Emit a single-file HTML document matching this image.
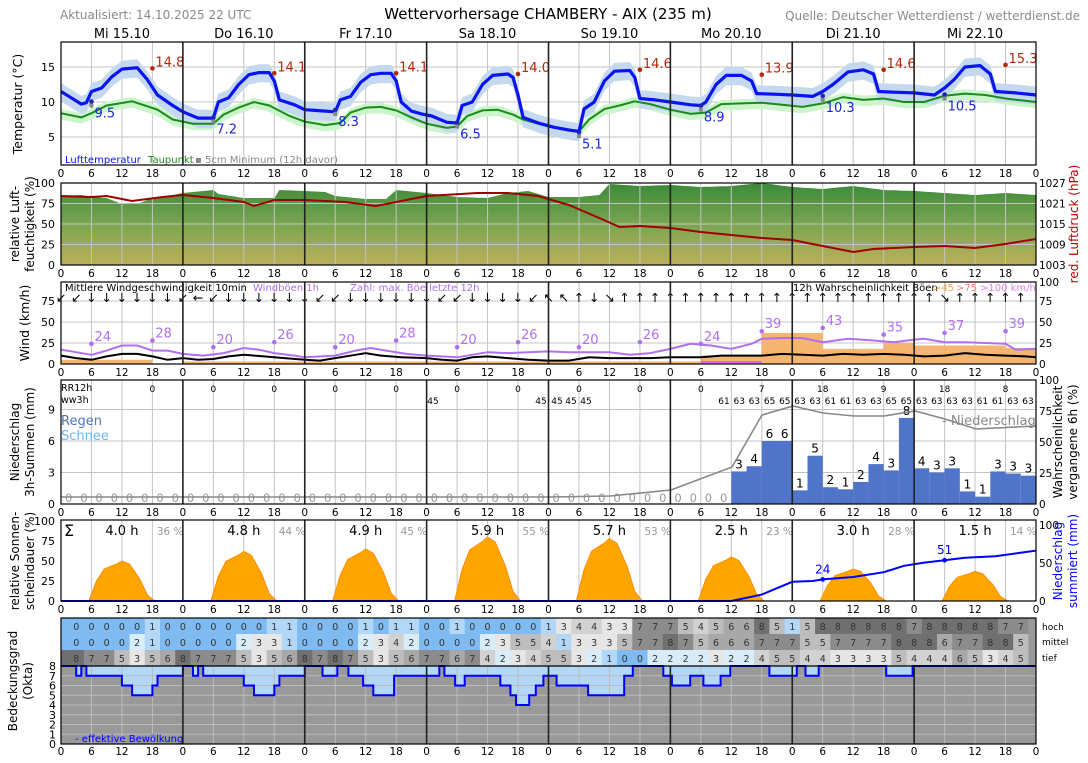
<!DOCTYPE html>
<html><head><meta charset="utf-8"><style>
html,body{margin:0;padding:0;background:#fff;}
svg{display:block;font-family:"DejaVu Sans","Liberation Sans",sans-serif;}
</style></head><body>
<svg id="s" width="1088" height="763" viewBox="0 0 1088 763" xmlns="http://www.w3.org/2000/svg">
<text x="60" y="19" font-size="12" fill="#8a8a8a">Aktualisiert: 14.10.2025 22 UTC</text>
<text x="548" y="19" font-size="15" text-anchor="middle" fill="#000">Wettervorhersage CHAMBERY - AIX (235 m)</text>
<text x="1080" y="20" font-size="12" text-anchor="end" fill="#8a8a8a">Quelle: Deutscher Wetterdienst / wetterdienst.de</text>
</svg>
<script>
const S=document.getElementById('s');const NS='http://www.w3.org/2000/svg';
function el(t,a,txt){const e=document.createElementNS(NS,t);for(const k in a)e.setAttribute(k,a[k]);if(txt!==undefined)e.textContent=txt;S.appendChild(e);return e;}
const L=61,R=1036,X=h=>L+h*(R-L)/192;
function tx(x,y,s,o){o=o||{};return el('text',Object.assign({x:x,y:y,'font-size':o.fs||11,fill:o.fill||'#000','text-anchor':o.a||'middle'},o.extra||{}),s);}
function rtx(x,y,s,o){o=o||{};return el('text',{x:0,y:0,'font-size':o.fs||12,fill:o.fill||'#000','text-anchor':'middle',transform:`translate(${x},${y}) rotate(-90)`},s);}
function lerp(pts,h){for(let i=0;i<pts.length-1;i++){if(h>=pts[i][0]&&h<=pts[i+1][0]){const t=(h-pts[i][0])/(pts[i+1][0]-pts[i][0]||1);return pts[i][1]+t*(pts[i+1][1]-pts[i][1]);}}return pts[pts.length-1][1];}
function path(pts,fy){return pts.map((p,i)=>(i?'L':'M')+X(p[0]).toFixed(1)+','+fy(p[1]).toFixed(1)).join('');}
const days=['Mi 15.10','Do 16.10','Fr 17.10','Sa 18.10','So 19.10','Mo 20.10','Di 21.10','Mi 22.10'];
days.forEach((d,i)=>tx(X(i*24+12),38,d,{fs:13}));
const panels={T:[42,165],H:[183,265],W:[282,364],P:[380,504],Sun:[520,601],C:[618,744]};
function grid(p,hy){const [t,b]=panels[p];
 for(let h=6;h<192;h+=6){if(h%24)el('line',{x1:X(h),x2:X(h),y1:t,y2:b,stroke:'#c4c4c4','stroke-width':1});}
 (hy||[]).forEach(y=>el('line',{x1:L,x2:R,y1:y,y2:y,stroke:'#c4c4c4','stroke-width':1}));}
function frame(p){const [t,b]=panels[p];
 for(let d=1;d<8;d++)el('line',{x1:X(d*24),x2:X(d*24),y1:t,y2:b,stroke:'#222','stroke-width':1.6});
 el('rect',{x:L,y:t,width:R-L,height:b-t,fill:'none',stroke:'#000','stroke-width':1.2});
 for(let h=0;h<=192;h+=6)tx(X(h),b+12,String(h%24),{fs:10.5});}
/* ---------- Temperature ---------- */
const TY=v=>172-7*v;
const Tp=[[0,11.5],[2,10.6],[4,9.7],[5,9.9],[6,11.5],[8,12],[10,13.6],[12,14.7],[15,14.9],[17,13.2],[19,11],[22,9.5],[24,8.6],[27,7.7],[30,7.7],[31,10],[33,10.6],[35,12.5],[37,13.9],[39,14.2],[41,14.2],[42,13],[43,10.3],[46,9.6],[48,8.9],[50,8.8],[54,8.6],[55,10.3],[57,10.8],[59,12.8],[61,13.9],[63,14.1],[65,14.1],[66,13],[67,10],[69,8.7],[71,8.3],[73,8],[76,7.1],[78,7],[79,9.5],[81,10],[83,12.5],[85,13.8],[88,14],[89,13.5],[90,11],[91,7.8],[94,7],[97,6.4],[100,6],[102,5.8],[103,9],[105,10],[107,13],[109,14.4],[112,14.5],[113,13.5],[114,10.5],[117,10.3],[120,10],[124,9.6],[126,9.5],[127,10],[129,12.5],[131,13.8],[134,13.8],[136,13],[137,11.2],[141,11.1],[144,11],[148,10.8],[150,11.5],[152,12.5],[155,14.3],[158,14.6],[160,14],[161,11.5],[164,11.4],[168,11.3],[172,11],[174,12],[176,13.3],[178,15],[181,15.2],[183,14],[184,11.5],[188,11.3],[192,11]];
const Dp=[[0,8.4],[4,7.8],[6,8.4],[9,9.5],[14,10.1],[19,8.9],[22,7.5],[26,6.9],[30,6.9],[32,8.2],[35,9.2],[38,10],[41,9.5],[45,8],[48,7.2],[52,6.7],[55,7],[57,8.5],[60,9.2],[63,9.3],[66,8.8],[69,7.8],[72,6.9],[76,6.3],[78,6.5],[80,8],[83,8.8],[86,8.9],[89,8.2],[91,7.5],[96,6.5],[100,6],[102,5.8],[104,7.5],[107,9],[110,9.5],[113,10.1],[116,9.7],[120,8.9],[124,8.3],[127,8.5],[130,9.7],[134,9.8],[138,9.9],[142,9.6],[146,9.3],[150,9.8],[154,10.7],[158,10.3],[162,10.5],[166,10],[170,10],[174,10.9],[178,11.2],[182,11],[186,10.5],[192,10]];
grid('T',[TY(15),TY(10),TY(5)]);
function band(pts,up,dn,fill){const a=[],b=[];for(let h=0;h<=192;h+=1){const v=lerp(pts,h);a.push([h,v+up]);b.push([h,v-dn]);}
 el('path',{d:path(a,TY)+path(b.reverse(),TY).replace('M','L')+'Z',fill:fill});}
band(Dp,0.6,0.9,'#ccf5cc');band(Tp,1.2,1.4,'#c4d9ef');
el('path',{d:path(Dp,TY),fill:'none',stroke:'#1a8c1a','stroke-width':2});
el('path',{d:path(Tp,TY),fill:'none',stroke:'#0a14f0','stroke-width':3.2,'stroke-linejoin':'round'});
[14.8,14.1,14.1,14.0,14.6,13.9,14.6,15.3].forEach((v,i)=>{const x=X(i*24+18);el('circle',{cx:x,cy:TY(v),r:2.3,fill:'#b02a0a'});tx(x+3,TY(v)-2,v.toFixed(1),{fs:13,fill:'#b02a0a',a:'start'});});
[9.5,7.2,8.3,6.5,5.1,8.9,10.3,10.5].forEach((v,i)=>{const x=X(i*24+6);el('circle',{cx:x,cy:TY(v)-4,r:2.3,fill:'#1a28b0'});el('rect',{x:x-2,y:TY(v)-2,width:4,height:4,fill:'#888'});tx(x+3,TY(v)+12,v.toFixed(1),{fs:13,fill:'#1a28d0',a:'start'});});
tx(65,163,'Lufttemperatur',{fs:10,fill:'#0a14f0',a:'start'});
tx(148,163,'Taupunkt',{fs:10,fill:'#1a8c1a',a:'start'});
tx(195,163,'▪ 5cm Minimum (12h davor)',{fs:10,fill:'#888',a:'start'});
frame('T');
[[15,TY(15)],[10,TY(10)],[5,TY(5)]].forEach(p=>tx(55,p[1]+4,String(p[0]),{fs:11,a:'end'}));
rtx(22,104,'Temperatur (°C)',{fs:12.5});
/* ---------- Humidity ---------- */
const HY=v=>265-v*0.82;
const defs=el('defs',{});defs.innerHTML='<linearGradient id="hg" x1="0" y1="0" x2="0" y2="1"><stop offset="0" stop-color="#3a8a3a"/><stop offset="0.5" stop-color="#7aa550"/><stop offset="1" stop-color="#bcb05a"/></linearGradient>';
const Htop=[[0,196],[4,195],[6,197],[9,198],[12,204],[15,204],[18,198],[21,196],[24,193],[30,190],[31,194],[36,198],[42,198],[43,190],[48,191],[52,192],[54,196],[60,199],[64,199],[66,190],[72,193],[78,197],[84,198],[88,193],[92,191],[96,197],[102,197],[106,195],[108,184],[114,186],[120,185],[126,187],[132,186],[138,183],[144,187],[150,189],[156,186],[162,190],[168,191],[174,193],[180,195],[186,193],[192,195]];
const hp=[];for(let h=0;h<=192;h+=1)hp.push(X(h).toFixed(1)+','+lerp(Htop,h).toFixed(1));
el('polygon',{points:hp.join(' ')+` ${R},265 ${L},265`,fill:'url(#hg)'});
grid('H',[HY(25),HY(50),HY(75)]);
const Pr=[[0,196],[6,197],[9,196],[14,201],[20,197],[24,195],[30,198],[36,202],[38,206],[42,200],[48,200],[56,202],[62,206],[68,200],[72,196],[82,193],[88,193],[94,196],[100,205],[106,218],[110,227],[114,226],[120,228],[126,232],[132,235],[138,238],[144,240],[150,246],[156,252],[160,249],[164,248],[168,247],[174,246],[180,248],[186,244],[192,239]];
el('path',{d:path(Pr,v=>v),fill:'none',stroke:'#a00000','stroke-width':2});
frame('H');
[[100,183],[75,HY(75)],[50,HY(50)],[25,HY(25)],[0,265]].forEach(p=>tx(55,p[1]+4,String(p[0]),{fs:11,a:'end'}));
[[1027,183],[1021,203.5],[1015,224],[1009,244.5],[1003,265]].forEach(p=>tx(1039,p[1]+4,String(p[0]),{fs:10.5,a:'start'}));
rtx(19,224,'relative Luft-');rtx(34,224,'feuchtigkeit (%)');
rtx(1078,224,'red. Luftdruck (hPa)',{fill:'#c00000'});
/* ---------- Wind ---------- */
const WY=v=>364-v*0.84;
grid('W',[WY(25),WY(50),WY(75)]);
[[0,18,5],[24,72,3],[72,126,3],[126,138,10],[138,150,37],[150,162,18],[162,168,25],[168,186,22],[186,192,19]].forEach(b=>el('rect',{x:X(b[0]),y:WY(b[2]),width:X(b[1])-X(b[0]),height:364-WY(b[2]),fill:'#f5b570'}));
el('line',{x1:X(126),x2:X(138),y1:362,y2:362,stroke:'#e060f0','stroke-width':2});
const Wm=[[0,10],[3,7],[6,5],[9,9],[12,12],[15,12],[18,9],[21,5],[24,7],[27,5],[30,6],[33,9],[36,11],[40,9],[44,7],[48,5],[51,4],[54,7],[58,11],[60,13],[63,10],[67,8],[72,7],[75,5],[78,4],[81,8],[84,9],[88,7],[92,5],[96,4],[100,4],[104,8],[108,7],[112,7],[116,7],[120,8],[126,8],[130,10],[134,10],[138,10],[142,12],[146,11],[150,10],[154,12],[158,11],[162,12],[166,11],[170,9],[174,10],[178,13],[182,11],[186,10],[190,9],[192,8]];
const Wg=[[0,17],[3,14],[6,11],[9,16],[12,22],[15,22],[18,16],[21,16],[24,12],[28,10],[32,13],[36,19],[39,17],[42,13],[46,10],[48,8],[54,10],[58,16],[61,19],[64,16],[68,12],[72,10],[78,8],[84,14],[88,13],[92,14],[96,15],[100,14],[104,14],[108,14],[112,11],[116,13],[120,18],[124,24],[128,22],[132,18],[136,24],[138,30],[142,31],[146,31],[150,26],[155,30],[160,28],[164,26],[168,29],[170,30],[174,26],[178,26],[182,25],[186,24],[188,17],[192,18]];
el('path',{d:path(Wg,WY),fill:'none',stroke:'#b070f0','stroke-width':2});
el('path',{d:path(Wm,WY),fill:'none',stroke:'#000','stroke-width':2});
[24,28,20,26,20,28,20,26,20,26,24,39,43,35,37,39].forEach((v,i)=>{const x=X(6+12*i);el('circle',{cx:x,cy:WY(v),r:2.3,fill:'#b070f0'});tx(x+3,WY(v)-3,String(v),{fs:13,fill:'#b070f0',a:'start'});});
const arr='↙↙↓↓↓↓↓↓↙←↙↓↓↓↓↓↓↙↙↓↓↓↓↓↓↙↙↓↓↓↓↙↖↖↑↓↘↑↑↑↑↑↑↑↑↑↑↑↑↑↑↑↑↑↑↑↑↑↘↑↑↑↑↑↑↑↑↑';
for(let i=0;i<64;i++)tx(X(i*3),302,arr[i]||'↑',{fs:12.5});
tx(65,291,'Mittlere Windgeschwindigkeit 10min',{fs:10,a:'start'});
tx(253,291,'Windböen 1h',{fs:10,fill:'#b070f0',a:'start'});
tx(350,291,'Zahl: max. Böe letzte 12h',{fs:10,fill:'#b070f0',a:'start'});
tx(793,291,'12h Wahrscheinlichkeit Böen',{fs:10,a:'start'});
tx(933,291,'>45',{fs:10,fill:'#e8a860',a:'start'});
tx(956,291,'>75',{fs:10,fill:'#f08070',a:'start'});
tx(980,291,'>100 km/h',{fs:10,fill:'#e080e8',a:'start'});
frame('W');
[[75,WY(75)],[50,WY(50)],[25,WY(25)],[0,364]].forEach(p=>tx(55,p[1]+4,String(p[0]),{fs:11,a:'end'}));
[[100,282],[75,WY(75)],[50,WY(50)],[25,WY(25)],[0,364]].forEach(p=>tx(1039,p[1]+4,String(p[0]),{fs:10.5,a:'start'}));
rtx(29,323,'Wind (km/h)',{fs:12.5});
/* ---------- Precip ---------- */
const PY=v=>504-v*10.5;
grid('P',[PY(3),PY(6),PY(9)]);
const bars=[[132,3.1],[135,3.6],[138,6],[141,6],[144,1.3],[147,4.6],[150,1.6],[153,1.4],[156,2.1],[159,3.8],[162,3.2],[165,8.2],[168,3.4],[171,3.0],[174,3.4],[177,1.2],[180,0.7],[183,3.1],[186,2.9],[189,2.7]];
const bl=[3,4,6,6,1,5,2,1,2,4,3,8,4,3,3,1,1,3,3,3];
bars.forEach((b,i)=>{el('rect',{x:X(b[0]),y:PY(b[1]),width:X(b[0]+3)-X(b[0]),height:504-PY(b[1]),fill:'#4f74c8'});tx(X(b[0]+1.5),PY(b[1])-3,String(bl[i]),{fs:12});});
for(let k=0;k<44;k++)tx(X(3*k+1.5),502,'0',{fs:11.5,fill:'#999'});
el('polyline',{points:'61,497 427,497 550,497 610,496 671,490 732,467 762,415 793,406 823,413 854,416 884,416 915,411 945,419 976,429 1036,426',fill:'none',stroke:'#888','stroke-width':1.6});
tx(942,425,'- Niederschlag',{fs:13,fill:'#888',a:'start'});
tx(61,391,'RR12h',{fs:9.5,a:'start'});tx(61,403,'ww3h',{fs:9.5,a:'start'});
[0,0,0,0,0,0,0,0,0,0,7,18,9,18,8].forEach((v,i)=>tx(X(18+12*i),392,String(v),{fs:9}));
[[433,45],[541,45],[557,45],[571,45],[586,45]].forEach(p=>tx(p[0],404,String(p[1]),{fs:9}));
[61,63,63,65,65,63,63,61,61,63,63,65,65,63,63,63,63,61,61,63,63].forEach((v,i)=>tx(724+i*15.2,404,String(v),{fs:9}));
tx(61,425,'Regen',{fs:13,fill:'#4f74c8',a:'start'});tx(61,440,'Schnee',{fs:13,fill:'#6ab4f8',a:'start'});
frame('P');
[[9,PY(9)],[6,PY(6)],[3,PY(3)],[0,504]].forEach(p=>tx(55,p[1]+4,String(p[0]),{fs:11,a:'end'}));
[[100,380],[75,411],[50,442],[25,473],[0,504]].forEach(p=>tx(1039,p[1]+4,String(p[0]),{fs:10.5,a:'start'}));
rtx(19,442,'Niederschlag');rtx(34,442,'3h-Summen (mm)');
rtx(1062,442,'Wahrscheinlichkeit');rtx(1077,442,'vergangene 6h (%)');
/* ---------- Sunshine ---------- */
const SY=v=>601-v*0.8;
grid('Sun',[]);
[50,62,65,80,78,55,40,37].forEach((p,d)=>{const o=d*24;const pts=[[o+5.5,0],[o+7,p*0.5],[o+8.5,p*0.8],[o+11,p*0.93],[o+12,p],[o+13.5,p*0.92],[o+15.5,p*0.55],[o+17,p*0.15],[o+18.5,0]];
 el('path',{d:path(pts,SY)+'Z',fill:'#ffa500',stroke:'#ff8c00','stroke-width':1});});
const Cu=[[0,0],[132,0],[138,8],[144,24],[148,25],[150,27],[156,30],[162,36],[166,44],[170,48],[174,51],[178,54],[184,56],[192,63]];
el('path',{d:path(Cu,SY),fill:'none',stroke:'#0000ff','stroke-width':2});
el('circle',{cx:X(150),cy:SY(27),r:2.3,fill:'#0000ff'});tx(X(150),SY(27)-6,'24',{fs:12,fill:'#0000ff'});
el('circle',{cx:X(174),cy:SY(51),r:2.3,fill:'#0000ff'});tx(X(174),SY(51)-6,'51',{fs:12,fill:'#0000ff'});
[['4.0 h','36 %'],['4.8 h','44 %'],['4.9 h','45 %'],['5.9 h','55 %'],['5.7 h','53 %'],['2.5 h','23 %'],['3.0 h','28 %'],['1.5 h','14 %']].forEach((s,d)=>{tx(X(d*24+12),535,s[0],{fs:13});tx(X(d*24+21.5),535,s[1],{fs:10.5,fill:'#999'});});
tx(64,536,'Σ',{fs:16,a:'start'});
frame('Sun');
[[100,521],[75,541],[50,561],[25,581],[0,601]].forEach(p=>tx(55,p[1]+4,String(p[0]),{fs:11,a:'end'}));
[[100,525],[50,563],[0,601]].forEach(p=>tx(1039,p[1]+4,String(p[0]),{fs:10.5,a:'start'}));
rtx(19,561,'relative Sonnen-');rtx(34,561,'scheindauer (%)');
rtx(1062,561,'Niederschlag',{fill:'#0000ff'});rtx(1077,561,'summiert (mm)',{fill:'#0000ff'});
/* ---------- Clouds ---------- */
const col=['#7fbaf0','#b3d7f7','#d9ecf9','#e6e6e6','#d2d2d2','#bdbdbd','#a8a8a8','#8c8c8c','#707070'];
const hoch=[0,0,0,0,0,1,0,0,0,0,0,0,0,1,1,0,0,0,0,1,0,1,1,0,0,1,0,0, 0,0,0,1,3,4,4,3,3,7,7,7,5,4,5,6,6,8,5,1,5,8,8,8,8,8,8,7,8,8,8,8,8,7,7];
const mit=[0,0,0,0,2,1,0,0,0,0,0,2,3,3,1,0,0,0,0,2,3,4,2,0,0,0,0,2, 3,5,5,4,1,3,3,3,5,7,7,8,7,5,6,6,6,7,7,7,5,5,7,7,7,7,8,8,8,6,7,7,8,8,5];
const tief=[8,7,7,5,3,5,6,8,7,7,7,5,3,5,6,8,7,8,7,5,3,5,6,7,7,6,7,4, 2,3,4,5,5,3,2,1,0,0,2,2,2,2,3,2,2,4,5,5,4,4,3,3,3,3,5,4,4,4,6,5,3,4,5];
[[hoch,618],[mit,634],[tief,650]].forEach(([arrv,y])=>{
 el('rect',{x:L,y:y,width:R-L,height:16,fill:col[arrv[0]]});
 arrv.forEach((v,i)=>{const h=3*(i+1);el('rect',{x:X(h-1.5),y:y,width:X(h+1.5)-X(h-1.5)+0.5,height:16,fill:col[v]});tx(X(h),y+12,String(v),{fs:9.5,fill:'#333'});});
 el('rect',{x:X(190.5),y:y,width:R-X(190.5),height:16,fill:'#999'});});
tx(1042,630,'hoch',{fs:9,a:'start'});tx(1042,645,'mittel',{fs:9,a:'start'});tx(1042,661,'tief',{fs:9,a:'start'});
const CY=v=>744-v*9.75;
el('rect',{x:L,y:666,width:R-L,height:78,fill:'#999'});
const st=[[2,8],[3,7],[4,8],[5,7],[12,6],[14,5],[18,6],[19,7],[24,8],[26,7],[27,8],[28,7],[36,6],[38,5],[42,6],[43,7],[48,8],[51.5,7],[54.4,8],[56.6,7],[59.5,6],[61.5,5],[65.6,7],[74.5,8],[75.5,7],[77.6,6],[79.5,7],[86.5,6],[88.5,5],[89.6,4],[92.2,5],[93.5,6],[95,7],[97.6,6],[103.8,5],[110.9,7],[112.6,8],[118.6,7],[120.3,6],[123.9,7],[126.5,6],[129.9,7],[131.8,8],[139.5,7],[144.9,8],[146.6,7],[149.2,8],[162.5,7],[167.7,8],[192,8]];
let d='M'+X(0)+','+CY(8);let prev=8;
st.forEach(([h,v])=>{d+='L'+X(h).toFixed(1)+','+CY(prev)+'L'+X(h).toFixed(1)+','+CY(v);prev=v;});
el('path',{d:d+'L'+R+','+CY(8)+'Z',fill:'#b3d7f7'});
for(let v=1;v<8;v++)el('line',{x1:L,x2:R,y1:CY(v),y2:CY(v),stroke:'#bbb','stroke-width':1});
for(let h=6;h<192;h+=6){if(h%24)el('line',{x1:X(h),x2:X(h),y1:666,y2:744,stroke:'#bbb','stroke-width':1});}
el('path',{d:d,fill:'none',stroke:'#0000ff','stroke-width':2});
tx(75,742,'- effektive Bewölkung',{fs:10,fill:'#0000ff',a:'start'});
for(let d2=1;d2<8;d2++)el('line',{x1:X(d2*24),x2:X(d2*24),y1:666,y2:744,stroke:'#222','stroke-width':1.6});
el('rect',{x:L,y:618,width:R-L,height:126,fill:'none',stroke:'#000','stroke-width':1.2});
el('line',{x1:L,x2:R,y1:666,y2:666,stroke:'#000','stroke-width':1.2});
for(let h=0;h<=192;h+=6)tx(X(h),755,String(h%24),{fs:10.5});
for(let v=0;v<=8;v++)tx(56,CY(v)+4,String(v),{fs:11,a:'end'});
rtx(17,681,'Bedeckungsgrad');rtx(32,681,'(Okta)');
</script>
</body></html>
